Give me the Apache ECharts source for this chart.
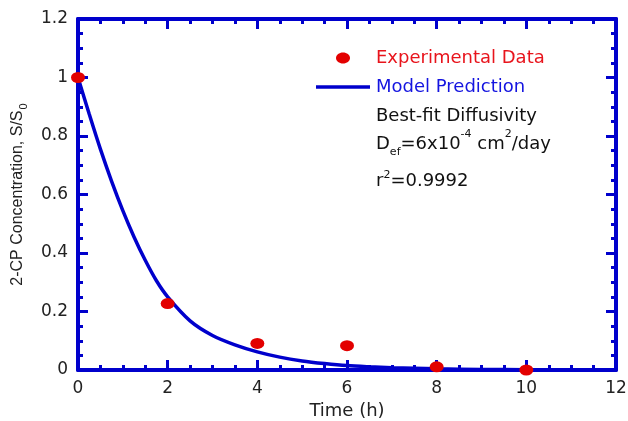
<!DOCTYPE html>
<html>
<head>
<meta charset="utf-8">
<script src="https://cdn.jsdelivr.net/npm/echarts@6/dist/echarts.min.js"></script>
<style>
html,body{margin:0;padding:0;background:#fff;}
#chart{width:628px;height:421px;}
</style>
</head>
<body>
<div id="chart"></div>
<script>
// Experimental data
var expTime = [0, 2, 4, 6, 8, 10];
var expConc = [1.0, 0.227, 0.091, 0.083, 0.011, 0.0];
// Model prediction curve
var modelTime = [0, 0.25, 0.5, 0.75, 1.0, 1.25, 1.5, 1.75, 2.0, 2.5, 3.0, 3.5, 4.0, 4.5, 5.0, 5.5, 6.0, 6.5, 7.0, 8.0, 9.0, 10.0, 11.0, 12.0];
var modelConc = [1.0, 0.875, 0.755, 0.645, 0.545, 0.455, 0.375, 0.305, 0.25, 0.168, 0.118, 0.086, 0.062, 0.044, 0.031, 0.022, 0.015, 0.011, 0.008, 0.004, 0.002, 0.001, 0.0005, 0.0002];
// Axis ranges
var xRange = [0, 12, 2];
var yRange = [0, 1.2, 0.2];
// Texts
var legendTexts = ['Experimental Data', 'Model Prediction', 'Best-fit Diffusivity'];
var xName = 'Time (h)';
var yName = '2-CP Concentration, S/S';

var BLUE = '#0000cc';
var RED = '#e30000';

function zip(a, b) { return a.map(function (v, i) { return [v, b[i]]; }); }

function axisCommon(showLabel) {
  return {
    axisLine: { show: true, onZero: false, lineStyle: { color: BLUE, width: 4 } },
    axisTick: { show: true, inside: true, length: 10, lineStyle: { color: BLUE, width: 3 } },
    minorTick: { show: true, splitNumber: 4, length: 5, lineStyle: { color: BLUE, width: 3 } },
    splitLine: { show: false },
    minorSplitLine: { show: false },
    axisLabel: { show: showLabel, fontFamily: 'DejaVu Sans', fontSize: 17, color: '#222', margin: 10 }
  };
}

var xBottom = Object.assign({ type: 'value', position: 'bottom', min: xRange[0], max: xRange[1], interval: xRange[2],
  name: xName, nameLocation: 'middle', nameGap: 31,
  nameTextStyle: { fontFamily: 'DejaVu Sans', fontSize: 18, color: '#222' } }, axisCommon(true));
var xTop = Object.assign({ type: 'value', position: 'top', min: xRange[0], max: xRange[1], interval: xRange[2] }, axisCommon(false));
var yLeft = Object.assign({ type: 'value', position: 'left', min: yRange[0], max: yRange[1], interval: yRange[2],
  name: '{a|' + yName + '}{s|0}', nameLocation: 'middle', nameGap: 49,
  nameTextStyle: { fontFamily: 'Liberation Sans', fontSize: 16, color: '#222',
    rich: { a: { fontFamily: 'Liberation Sans', fontSize: 16, color: '#222' },
            s: { fontFamily: 'Liberation Sans', fontSize: 11, color: '#222', padding: [12, 0, 0, 1] } } } }, axisCommon(true));
var yRight = Object.assign({ type: 'value', position: 'right', min: yRange[0], max: yRange[1], interval: yRange[2] }, axisCommon(false));

var txtFont = 'DejaVu Sans';
var option = {
  animation: false,
  backgroundColor: '#fff',
  grid: { left: 78, right: 12, top: 19, bottom: 51, containLabel: false, outerBoundsMode: 'none' },
  xAxis: [xBottom, xTop],
  yAxis: [yLeft, yRight],
  series: [
    { type: 'line', xAxisIndex: 0, yAxisIndex: 0, data: zip(modelTime, modelConc), showSymbol: false,
      smooth: 0.3, lineStyle: { color: BLUE, width: 3.5 }, z: 3 },
    { type: 'scatter', xAxisIndex: 0, yAxisIndex: 0, data: zip(expTime, expConc), symbol: 'circle',
      symbolSize: [14, 11], itemStyle: { color: RED, opacity: 1 }, clip: false, z: 5 }
  ],
  graphic: [
    { type: 'ellipse', shape: { cx: 343, cy: 58, rx: 7, ry: 5.5 }, style: { fill: RED } },
    { type: 'line', shape: { x1: 316, y1: 87, x2: 370, y2: 87 }, style: { stroke: BLUE, lineWidth: 3.5 } },
    { type: 'text', x: 376, y: 58, style: { text: legendTexts[0], font: '18px "DejaVu Sans"', fill: '#e8141c', verticalAlign: 'middle' } },
    { type: 'text', x: 376, y: 87, style: { text: legendTexts[1], font: '18px "DejaVu Sans"', fill: '#1414e0', verticalAlign: 'middle' } },
    { type: 'text', x: 376, y: 116, style: { text: legendTexts[2], font: '18px "DejaVu Sans"', fill: '#111', verticalAlign: 'middle' } },
    { type: 'text', x: 376, y: 144, style: {
        text: '{m|D}{sub|ef}{m|=6x10}{sup|-4}{m| cm}{sup|2}{m|/day}',
        verticalAlign: 'middle', fill: '#111',
        rich: {
          m: { fontFamily: txtFont, fontSize: 18, fill: '#111', color: '#111' },
          sub: { fontFamily: txtFont, fontSize: 11, fill: '#111', color: '#111', padding: [16, 0, 0, 0] },
          sup: { fontFamily: txtFont, fontSize: 11, fill: '#111', color: '#111', padding: [0, 0, 20, 0] }
        } } },
    { type: 'text', x: 376, y: 181, style: {
        text: '{m|r}{sup|2}{m|=0.9992}',
        verticalAlign: 'middle', fill: '#111',
        rich: {
          m: { fontFamily: txtFont, fontSize: 18, fill: '#111', color: '#111' },
          sup: { fontFamily: txtFont, fontSize: 11, fill: '#111', color: '#111', padding: [0, 0, 12, 0] }
        } } }
  ]
};

var chart = echarts.init(document.getElementById('chart'), null, { renderer: 'canvas' });
chart.setOption(option);
</script>
</body>
</html>
